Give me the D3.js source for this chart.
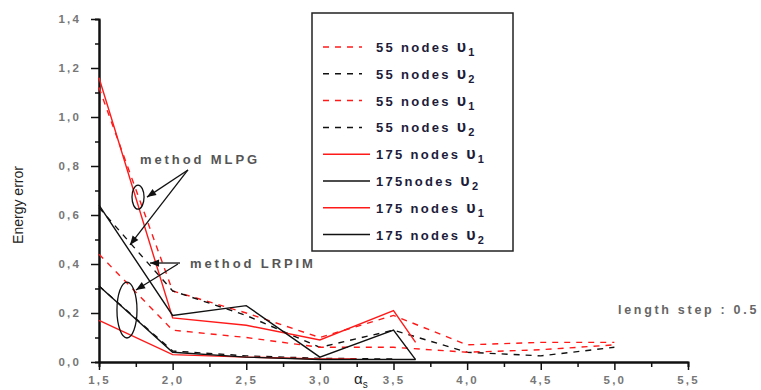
<!DOCTYPE html>
<html>
<head>
<meta charset="utf-8">
<script src="https://cdn.jsdelivr.net/npm/d3@7"></script>
<style>
  body { margin: 0; background: #fff; }
  svg { display: block; font-family: 'Liberation Sans', Arial, sans-serif; }
</style>
</head>
<body>
<div id="chart"></div>
<script>
// series: [alpha, energy error]
const nodes55v1Mlpg = [[1.5, 1.12], [2.0, 0.29], [2.5, 0.20], [3.0, 0.10], [3.5, 0.19], [4.0, 0.07], [4.5, 0.08], [5.0, 0.08]]
const nodes55v2Mlpg = [[1.5, 0.63], [2.0, 0.29], [2.5, 0.19], [3.0, 0.06], [3.5, 0.13], [4.0, 0.04], [4.5, 0.025], [5.0, 0.06]]
const nodes55v1Lrpim = [[1.5, 0.44], [2.0, 0.13], [2.5, 0.10], [3.0, 0.06], [3.5, 0.06], [4.0, 0.04], [4.5, 0.05], [5.0, 0.07]]
const nodes55v2Lrpim = [[1.5, 0.31], [2.0, 0.045], [2.5, 0.025], [3.0, 0.015], [3.5, 0.012]]
const nodes175v1Mlpg = [[1.5, 1.16], [2.0, 0.18], [2.5, 0.15], [3.0, 0.09], [3.5, 0.21], [3.65, 0.08]]
const nodes175v2Mlpg = [[1.5, 0.64], [2.0, 0.19], [2.5, 0.23], [3.0, 0.02], [3.5, 0.13], [3.65, 0.01]]
const nodes175v1Lrpim = [[1.5, 0.17], [2.0, 0.03], [2.5, 0.02], [3.0, 0.012], [3.25, 0.012]]
const nodes175v2Lrpim = [[1.5, 0.31], [2.0, 0.04], [2.5, 0.02], [3.0, 0.01], [3.65, 0.01]]

const legendLabels = ['55 nodes', '55 nodes', '55 nodes ', '55 nodes ', '175 nodes ', '175nodes ', '175 nodes ', '175 nodes ']
const legendSubs = ['1', '2', '1', '2', '1', '2', '1', '2']
const yTicks = [0, 0.2, 0.4, 0.6, 0.8, 1.0, 1.2, 1.4]
const xTicks = [1.5, 2.0, 2.5, 3.0, 3.5, 4.0, 4.5, 5.0, 5.5]

const series = [
  { data: nodes55v1Mlpg, color: '#ff1a1a', dash: '6,6' },
  { data: nodes55v2Mlpg, color: '#111', dash: '6,6' },
  { data: nodes55v1Lrpim, color: '#ff1a1a', dash: '6,6' },
  { data: nodes55v2Lrpim, color: '#111', dash: '6,6' },
  { data: nodes175v1Mlpg, color: '#ff1a1a', dash: null },
  { data: nodes175v2Mlpg, color: '#111', dash: null },
  { data: nodes175v1Lrpim, color: '#ff1a1a', dash: null },
  { data: nodes175v2Lrpim, color: '#111', dash: null }
]

const width = 761, height = 390
const svg = d3.select('#chart').append('svg')
  .attr('width', width).attr('height', height)

const x = d3.scaleLinear().domain([1.5, 5.5]).range([99, 688])
const y = d3.scaleLinear().domain([0, 1.4]).range([362, 19])
const comma = d => d3.format('.1f')(d).replace('.', ',')

const styleAxis = g => {
  g.select('.domain').attr('stroke', '#111').attr('stroke-width', 2)
  g.selectAll('.tick line').attr('stroke', '#111').attr('stroke-width', 1.5)
  g.selectAll('.tick text').attr('fill', '#777').attr('font-size', 11.5)
    .attr('font-weight', 'bold').attr('letter-spacing', 2.2)
}

// minor ticks
svg.append('g').attr('transform', 'translate(99,0)')
  .call(d3.axisLeft(y).tickValues(d3.range(0.1, 1.4, 0.2)).tickSize(4).tickFormat(''))
  .call(styleAxis)
svg.append('g').attr('transform', 'translate(0,362)')
  .call(d3.axisBottom(x).tickValues(d3.range(1.75, 5.5, 0.5)).tickSize(5).tickFormat(''))
  .call(styleAxis)

svg.append('g').attr('transform', 'translate(99,0)')
  .call(d3.axisLeft(y).tickValues(yTicks).tickSize(8).tickSizeOuter(0).tickPadding(10).tickFormat(comma))
  .call(styleAxis)
svg.append('g').attr('transform', 'translate(0,362)')
  .call(d3.axisBottom(x).tickValues(xTicks).tickSize(8).tickSizeOuter(0).tickPadding(6).tickFormat(comma))
  .call(styleAxis)

const line = d3.line().x(d => x(d[0])).y(d => y(d[1]))

svg.append('g').selectAll('path')
  .data(series)
  .join('path')
  .attr('fill', 'none')
  .attr('stroke', d => d.color)
  .attr('stroke-width', 1.4)
  .attr('stroke-dasharray', d => d.dash)
  .attr('d', d => line(d.data))

// axis titles
svg.append('text')
  .attr('transform', 'translate(23,205) rotate(-90)')
  .attr('text-anchor', 'middle')
  .attr('font-size', 14)
  .attr('fill', '#222')
  .text('Energy error')

const xt = svg.append('text')
  .attr('x', 354).attr('y', 384)
  .attr('font-size', 15).attr('fill', '#222')
xt.append('tspan').text('α')
xt.append('tspan').attr('font-size', 10).attr('dy', 4).text('s')

svg.append('text')
  .attr('x', 618).attr('y', 314)
  .attr('font-size', 12.5).attr('font-weight', 'bold').attr('letter-spacing', 2.7)
  .attr('fill', '#666')
  .text('length step : 0.5')

// legend
const legend = svg.append('g')
legend.append('rect')
  .attr('x', 312).attr('y', 13).attr('width', 201).attr('height', 238)
  .attr('fill', '#fff').attr('stroke', '#222').attr('stroke-width', 1.5)

const item = legend.selectAll('g.item')
  .data(series)
  .join('g')
  .attr('class', 'item')
  .attr('transform', (d, i) => `translate(0,${47 + i * 26.8})`)

item.append('line')
  .attr('x1', 323).attr('x2', d => d.dash ? 362 : 370)
  .attr('stroke', d => d.color)
  .attr('stroke-width', 1.5)
  .attr('stroke-dasharray', d => d.dash)

const itemText = item.append('text')
  .attr('x', 376).attr('y', 5)
  .attr('font-size', 13).attr('font-weight', 'bold')
  .attr('letter-spacing', 2.3)
  .attr('fill', '#1c1c3a')
itemText.append('tspan').text((d, i) => legendLabels[i] + ' ')
itemText.append('tspan').attr('font-size', 16).text('υ')
itemText.append('tspan').attr('font-size', 11).attr('dy', 4).text((d, i) => legendSubs[i])

// annotations
const defs = svg.append('defs')
defs.append('marker')
  .attr('id', 'head').attr('viewBox', '0 0 10 10')
  .attr('refX', 10).attr('refY', 5)
  .attr('markerWidth', 9).attr('markerHeight', 7)
  .attr('orient', 'auto')
  .append('path').attr('d', 'M0,1L10,5L0,9Z').attr('fill', '#111')

const ann = svg.append('g').attr('fill', 'none').attr('stroke', '#111').attr('stroke-width', 1.3)
ann.append('ellipse')
  .attr('cx', x(1.765)).attr('cy', y(0.673))
  .attr('rx', x(1.806) - x(1.765)).attr('ry', y(0.624) - y(0.673))
ann.append('ellipse')
  .attr('cx', x(1.69)).attr('cy', y(0.212))
  .attr('rx', x(1.758) - x(1.69)).attr('ry', y(0.098) - y(0.212))

const arrows = [
  [[2.104, 0.784], [1.826, 0.673]],
  [[2.104, 0.784], [1.71, 0.478]],
  [[2.05, 0.404], [1.846, 0.404]],
  [[2.036, 0.40], [1.751, 0.294]]
]
ann.selectAll('line.arrow')
  .data(arrows)
  .join('line')
  .attr('class', 'arrow')
  .attr('x1', d => x(d[0][0])).attr('y1', d => y(d[0][1]))
  .attr('x2', d => x(d[1][0])).attr('y2', d => y(d[1][1]))
  .attr('marker-end', 'url(#head)')

svg.append('text')
  .attr('x', 140).attr('y', 164)
  .attr('font-size', 13).attr('font-weight', 'bold').attr('letter-spacing', 2.9)
  .attr('fill', '#555')
  .text('method MLPG')
svg.append('text')
  .attr('x', 190).attr('y', 268)
  .attr('font-size', 13).attr('font-weight', 'bold').attr('letter-spacing', 2.9)
  .attr('fill', '#555')
  .text('method LRPIM')
</script>
</body>
</html>
